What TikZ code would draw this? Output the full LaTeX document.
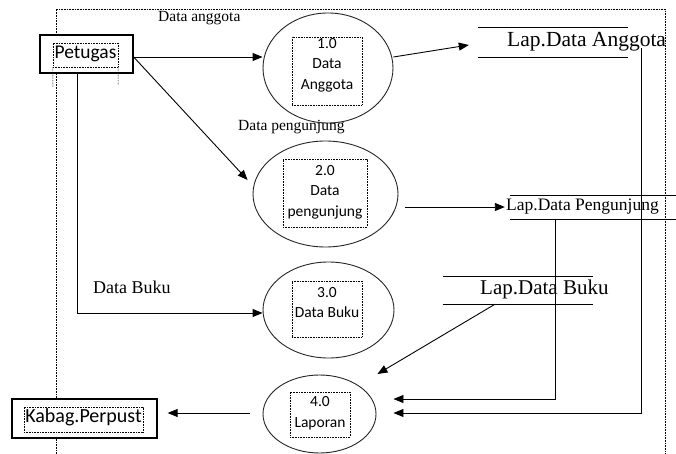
\documentclass[tikz,border=0pt]{standalone}
\usepackage{fontspec}
\setmainfont{Liberation Serif}
\newfontfamily\calfont{Carlito}
\usetikzlibrary{arrows.meta,shapes.geometric}
\tikzset{
  dots/.style={draw, line width=0.5pt, dash pattern=on 0.8pt off 0.8pt},
  arr/.style={draw, line width=0.9pt, -{Triangle[length=10pt,width=8pt]}},
  plain/.style={draw, line width=0.9pt},
  proc/.style={draw, ellipse, line width=0.9pt, draw=black!85, inner sep=0pt},
  ibox/.style={dots, rectangle, inner sep=0pt},
  itext/.style={font=\calfont\fontsize{15.5}{20.5}\selectfont, align=center, inner sep=0pt},
  ent/.style={draw, line width=1.3pt, fill=white, rectangle, inner sep=0pt},
  storebox/.style={rectangle, draw=none, inner sep=0pt},
  slab/.style={inner sep=0pt, anchor=base west},
}
\begin{document}
\begin{tikzpicture}[x=1pt,y=-1pt]
\useasboundingbox (0,0) rectangle (676,454);
\fill[white] (0,0) rectangle (676,454);

% outer dotted frame
\coordinate (fbl) at (56,454);
\coordinate (ftl) at (56,9);
\coordinate (ftr) at (665,9);
\coordinate (fbr) at (665,454);
\draw[dots] (fbl) -- (ftl) -- (ftr) -- (fbr);

% processes
\node[proc, minimum width=130, minimum height=110] (p1) at (328,68) {};
\node[ibox, minimum width=70, minimum height=68] (b1) at (327,71) {};
\node[itext] (t1) at (327,65) {1.0\\Data\\Anggota};

\node[proc, minimum width=145, minimum height=106] (p2) at (325.5,194) {};
\node[ibox, minimum width=84, minimum height=68] (b2) at (325,193) {};
\node[itext] (t2) at (325,192) {2.0\\Data\\pengunjung};

\node[proc, minimum width=131, minimum height=96] (p3) at (328.5,310) {};
\node[ibox, minimum width=70, minimum height=56] (b3) at (327,309) {};
\node[itext] (t3) at (327,302.5) {3.0\\Data Buku};

\node[proc, minimum width=113, minimum height=78] (p4) at (319.5,414) {};
\node[ibox, minimum width=60, minimum height=45] (b4) at (320,414.5) {};
\node[itext] (t4) at (320,413) {4.0\\Laporan};

% entities
\node[ent, minimum width=93, minimum height=38] (pet) at (86.5,54) {};
\node[ibox, minimum width=65, minimum height=24] (petb) at (85.5,55) {};
\coordinate (pe1) at (53,87); \coordinate (pe2) at (118,85);
\draw[dots] (petb.south west) -- (pe1);
\draw[dots] (petb.south east) -- (pe2);
\node[inner sep=0pt, anchor=base, font=\calfont\fontsize{19.5}{22}\selectfont] (pett) at (85.5,59) {Petugas};

\node[ent, minimum width=145, minimum height=39] (kab) at (84.5,418.5) {};
\node[ibox, minimum width=119, minimum height=25] (kabb) at (83.5,419.5) {};
\node[inner sep=0pt, anchor=base, font=\calfont\fontsize{20}{22}\selectfont] (kabt) at (83.5,422) {Kabag.Perpust};

% data stores
\node[storebox, minimum width=150, minimum height=29] (sA) at (553,42.5) {};
\draw[plain] (sA.north west) -- (sA.north east);
\draw[plain] (sA.south west) -- (sA.south east);
\node[slab, font=\fontsize{21.5}{24}\selectfont] (tA) at (507,47) {Lap.Data Anggota};

\node[storebox, minimum width=166, minimum height=23] (sP) at (593,207.5) {};
\draw[plain] (sP.north west) -- (sP.north east);
\draw[plain] (sP.south west) -- (sP.south east);
\node[slab, font=\fontsize{17.5}{20}\selectfont] (tP) at (506,211) {Lap.Data Pengunjung};

\node[storebox, minimum width=150, minimum height=27] (sB) at (518,290.5) {};
\draw[plain] (sB.north west) -- (sB.north east);
\draw[plain] (sB.south west) -- (sB.south east);
\node[slab, font=\fontsize{21}{24}\selectfont] (tB) at (480,294) {Lap.Data Buku};

% flow labels
\node[slab, font=\fontsize{15.5}{18}\selectfont] (l1) at (158,22) {Data anggota};
\node[slab, font=\fontsize{15.5}{18}\selectfont] (l2) at (238,131) {Data pengunjung};
\node[slab, font=\fontsize{18}{20}\selectfont] (l3) at (93,293) {Data Buku};

% helper coordinates
\coordinate (p2o) at ([xshift=7pt,yshift=-13pt]p2.east);
\coordinate (sPw) at ([xshift=-5pt]sP.west);

% connectors
\draw[arr] ([yshift=-3pt]pet.east) -- ([yshift=-3pt]pet.east -| p1.west);
\draw[arr] ([yshift=-3pt]pet.east) -- ([xshift=-5pt,yshift=14pt]p2.west);
\draw[arr] ([xshift=-9.5pt]pet.south) |- ([yshift=-3pt]p3.west);
\draw[arr] ([yshift=11pt]p1.east) -- ([xshift=-9pt,yshift=-2.5pt]sA.west);
\draw[arr] (p2o) -- (p2o -| sPw);
\draw[arr] ([xshift=-23pt]sB.south) -- ([xshift=1pt,yshift=40pt]p4.east);
\draw[arr] ([xshift=-38pt]sP.south) |- ([xshift=17pt,yshift=15pt]p4.east);
\draw[arr] ([xshift=13pt,yshift=9pt]sA.south east) |- ([xshift=17pt,yshift=1pt]p4.east);
\draw[arr] ([xshift=-13pt,yshift=1pt]p4.west) -- ([xshift=10pt,yshift=5.5pt]kab.east);
\end{tikzpicture}
\end{document}
